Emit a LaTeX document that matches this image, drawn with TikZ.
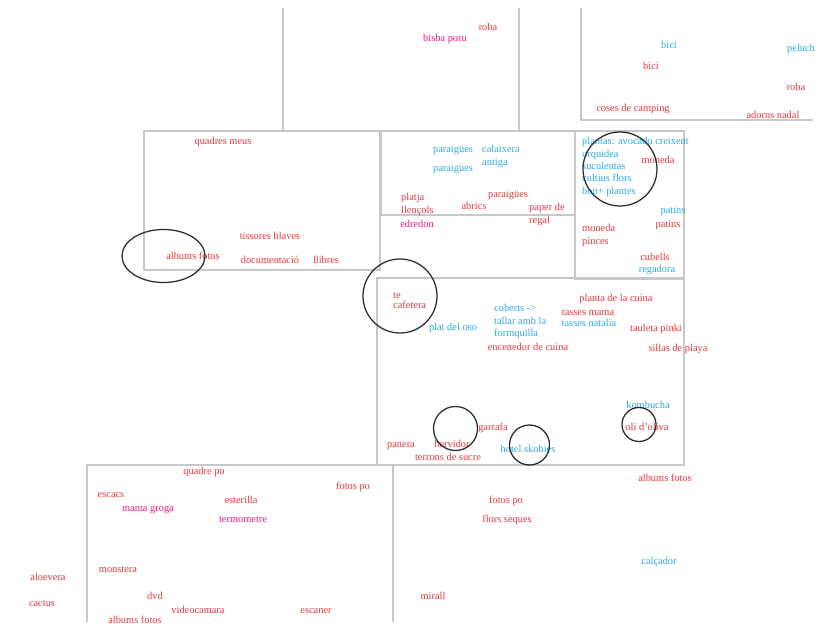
\documentclass[tikz,border=0pt]{standalone}
\usepackage{fontspec}
\setmainfont{Liberation Serif}
\usepackage{tikz}
\usetikzlibrary{positioning}
\definecolor{vermellText}{HTML}{E2383F}
\definecolor{blauText}{HTML}{29ABE2}
\definecolor{rosaText}{HTML}{E5188A}
\definecolor{grisCaixa}{HTML}{C8C8C8}
\definecolor{negreCercle}{HTML}{2B2B2B}

\begin{document}
\begin{tikzpicture}[
        x=1pt, y=-1pt,
        etiq/.style={inner sep=0pt, font=\fontsize{10.4}{12.3}\selectfont,
            text height=7pt, text depth=2pt, yshift=-2pt},
        llista/.style={inner sep=0pt, font=\fontsize{10.4}{12.3}\selectfont,
            align=left, anchor=north west, yshift=-2pt},
        ver/.style={etiq, text=vermellText},
        bla/.style={etiq, text=blauText},
        ros/.style={etiq, text=rosaText},
        caixa/.style={draw=grisCaixa, line width=1.2pt},
        cercle/.style={draw=negreCercle, line width=1.25pt}
    ]
        \fill[white] (0,0) rectangle (827,618);

        \draw[caixa] (283,8) -- (283,131);
        \draw[caixa] (519,8) -- (519,131);
        \draw[caixa] (581,8) -- (581,120) -- (813,120);
        \draw[caixa] (144,131) rectangle (380,270);
        \draw[caixa] (381,131) rectangle (575,215);
        \draw[caixa] (575,131) rectangle (684,279);
        \draw[caixa] (377,278) rectangle (684,465);
        \draw[caixa] (87,622) -- (87,465) -- (393,465) -- (393,622);

        \node[ver] (roba1) at (488,26) {roba};
        \node[ros] (bisba) at (445,37) {bisba poru};
        \node[bla] (bici1) at (669,44) {bici};
        \node[bla, anchor=west] (peluch) at (787,47) {peluch};
        \node[ver] (bici2) at (651,65) {bici};
        \node[ver] (roba2) at (796,86) {roba};
        \node[ver] (camping) at (633,107) {coses de camping};
        \node[ver] (nadal) at (773,114) {adorns nadal};

        \node[ver] (quadres) at (223,140) {quadres meus};
        \node[ver] (tissores) at (270,235) {tissores blaves};
        \node[ver] (albums1) at (193,255) {albums fotos};
        \node[ver] (docs) at (270,259) {documentació};
        \node[ver] (llibres) at (326,259) {llibres};

        \node[bla] (parai1) at (453,148) {paraigües};
        \node[llista, text=blauText] (calaix) at (482,143.5) {calaixera\\antiga};
        \node[bla] (parai2) at (453,167) {paraigües};
        \node[llista, text=vermellText] (platja) at (401,191.5) {platja\\llençols};
        \node[ver] (parai3) at (508,193) {paraigües};
        \node[ver] (abrics) at (474,205) {abrics};
        \node[llista, text=vermellText] (paper) at (529,201.5) {paper de\\regal};
        \node[ros] (edredon) at (417,223) {edredon};

        \node[llista, text=blauText] (plantes) at (582,135.5)
            {plantas: avocado creixent\\orquidea\\suculentas\\cultius flors\\bon+ plantes};
        \node[ver] (moneda1) at (658,159) {moneda};
        \node[bla] (patins1) at (673,209) {patins};
        \node[ver] (patins2) at (668,223) {patins};
        \node[llista, text=vermellText] (moneda2) at (582,222.5) {moneda\\pinces};
        \node[ver] (cubells) at (655,256) {cubells};
        \node[bla] (regadora) at (657,268) {regadora};

        \node[llista, text=vermellText, font=\fontsize{10.4}{10}\selectfont] (te) at (393,290.5) {te\\cafetera};
        \node[bla] (plat) at (453,326) {plat del oso};
        \node[llista, text=blauText] (coberts) at (494,302.5) {coberts ->\\tallar amb la\\formquilla};
        \node[ver] (planta) at (616,297) {planta de la cuina};
        \node[ver] (tmama) at (588,311) {tasses mama};
        \node[bla] (tnatalia) at (589,322) {tasses natalia};
        \node[ver] (tauleta) at (656,327) {tauleta pinki};
        \node[ver] (encenedor) at (528,346) {encenedor de cuina};
        \node[ver] (sillas) at (678,347) {sillas de playa};
        \node[bla] (kombucha) at (648,404) {kombucha};
        \node[ver] (oli) at (647,426) {oli d'oliva};
        \node[ver] (garrafa) at (493,426) {garrafa};
        \node[ver] (panera) at (401,443) {panera};
        \node[ver] (hervidor) at (452,443) {hervidor};
        \node[ver] (terrons) at (448,456) {terrons de sucre};
        \node[bla] (hotel) at (528,448) {hotel skobies};

        \node[ver] (quadre) at (204,470) {quadre po};
        \node[ver] (fotos1) at (353,485) {fotos po};
        \node[ver] (escacs) at (111,493) {escacs};
        \node[ver] (esterilla) at (241,499) {esterilla};
        \node[ros] (manta) at (148,507) {manta groga};
        \node[ros] (termo) at (243,518) {termometre};
        \node[ver] (monstera) at (118,568) {monstera};
        \node[ver] (aloe) at (48,576) {aloevera};
        \node[ver] (cactus) at (42,602) {cactus};
        \node[ver] (dvd) at (155,595) {dvd};
        \node[ver] (video) at (198,609) {videocamara};
        \node[ver] (escaner) at (316,609) {escaner};
        \node[ver] (albums2) at (135,619) {albums fotos};
        \node[ver] (albums3) at (665,477) {albums fotos};
        \node[ver] (fotos2) at (506,499) {fotos po};
        \node[ver] (flors) at (507,518) {flors seques};
        \node[bla] (calcador) at (659,560) {calçador};
        \node[ver] (mirall) at (433,595) {mirall};

        \draw[cercle] (163.5,256) ellipse [x radius=41.5pt, y radius=26.5pt];
        \draw[cercle] (400,296) circle [radius=37pt];
        \draw[cercle] (620,169) circle [radius=37pt];
        \draw[cercle] (455.5,428.5) circle [radius=22pt];
        \draw[cercle] (529.5,445) circle [radius=20pt];
        \draw[cercle] (639,424.5) circle [radius=17pt];
    \end{tikzpicture}
\end{document}
